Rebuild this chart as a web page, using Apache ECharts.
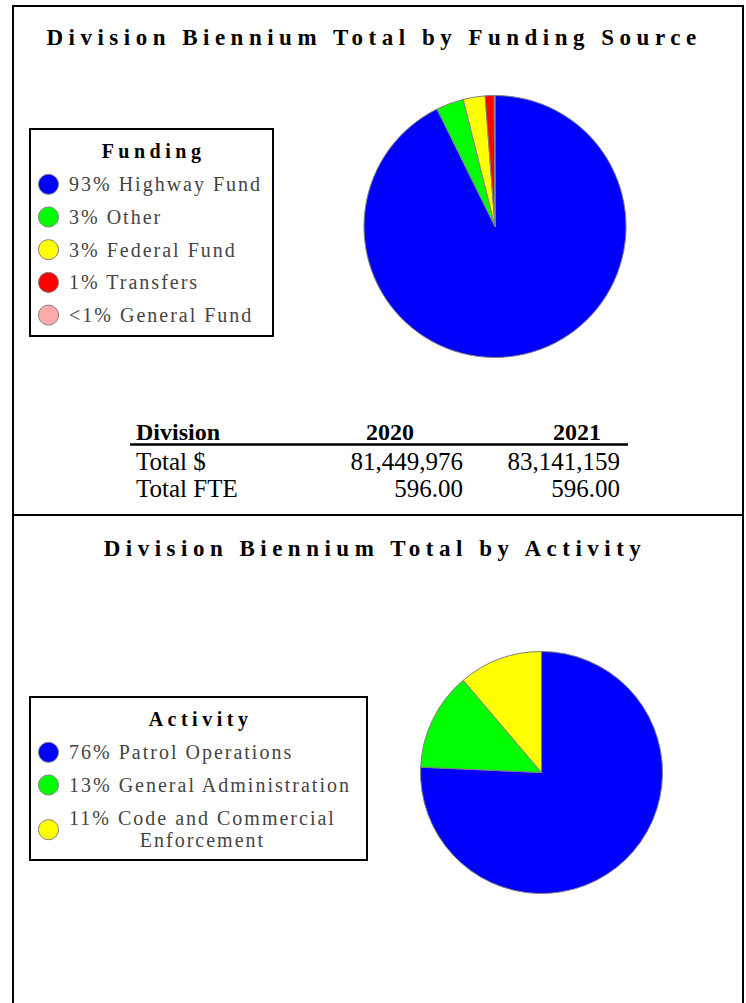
<!DOCTYPE html>
<html><head><meta charset="utf-8">
<script src="https://cdn.jsdelivr.net/npm/echarts@6/dist/echarts.min.js"></script>
<style>
html,body{margin:0;padding:0;background:#fff;}
#c{width:746px;height:1003px;}
#c text[style*="23px"]{letter-spacing:5.5px;}
#c text[style*="20px"]{letter-spacing:2px;}
#c text[style*="20px"][style*="bold"]{letter-spacing:4.5px;}
</style></head><body><div id="c"></div>
<script>
// ---- data ----
const fundingTitle = 'Division Biennium Total by Funding Source';
const fundingLegendTitle = 'Funding';
const fundingNames = ['Highway Fund', 'Other', 'Federal Fund', 'Transfers', 'General Fund'];
const fundingValues = [92.7, 3.4, 2.7, 1.1, 0.1];
const fundingPct = ['93%', '3%', '3%', '1%', '<1%'];

const activityTitle = 'Division Biennium Total by Activity';
const activityLegendTitle = 'Activity';
const activityNames = ['Patrol Operations', 'General Administration', 'Code and Commercial\nEnforcement'];
const activityValues = [75.7, 13.1, 11.2];
const activityPct = ['76%', '13%', '11%'];

const tableHeader = ['Division', '2020', '2021'];
const rowLabels = ['Total $', 'Total FTE'];
const totalDollars = [81449976, 83141159];
const totalFTE = [596.00, 596.00];

// ---- style ----
const fundingColors = ['#0000ff', '#00ff00', '#ffff00', '#ff0000', '#ffaaaa'];
const activityColors = ['#0000ff', '#00ff00', '#ffff00'];
const FONT = '"Liberation Serif"';
const itemFont = '20px ' + FONT;

function measure(text, font, spacing) {
  const cv = document.createElement('canvas');
  const ctx = cv.getContext('2d');
  ctx.font = font;
  try { ctx.letterSpacing = spacing + 'px'; } catch (e) {}
  return ctx.measureText(text).width;
}

const graphics = [];
// frame
graphics.push({type: 'polyline', silent: true, shape: {points: [[13, 1003], [13, 6], [743, 6], [743, 1003]]}, style: {stroke: '#000', lineWidth: 2, fill: null}});
graphics.push({type: 'line', silent: true, shape: {x1: 13, y1: 515, x2: 743, y2: 515}, style: {stroke: '#000', lineWidth: 2}});
// titles
graphics.push({type: 'text', x: 374, y: 37, style: {text: fundingTitle, font: 'bold 23px ' + FONT, fill: '#000', align: 'center', verticalAlign: 'middle'}});
graphics.push({type: 'text', x: 375, y: 548, style: {text: activityTitle, font: 'bold 23px ' + FONT, fill: '#000', align: 'center', verticalAlign: 'middle'}});

function buildLegend(box, title, titleY, names, pct, colors, firstY, gap, lineH) {
  graphics.push({type: 'rect', silent: true, shape: {x: box[0], y: box[1], width: box[2] - box[0], height: box[3] - box[1]}, style: {stroke: '#000', lineWidth: 2, fill: '#fff'}});
  graphics.push({type: 'text', x: (box[0] + box[2]) / 2 + 2, y: titleY, style: {text: title, font: 'bold 20px ' + FONT, fill: '#000', align: 'center', verticalAlign: 'middle'}});
  let y = firstY;
  names.forEach((n, i) => {
    const lines = (pct[i] + ' ' + n).split('\n');
    const h = lines.length * lineH;
    const cy = y + h / 2 - lineH / 2;
    const circY = lines.length > 1 ? cy + 1 : cy;
    graphics.push({type: 'circle', silent: true, shape: {cx: 48.5, cy: circY, r: 10}, style: {fill: colors[i], stroke: '#808080', lineWidth: 1}});
    if (lines.length === 1) {
      graphics.push({type: 'text', x: 69, y: cy, style: {text: lines[0], font: itemFont, fill: '#444', align: 'left', verticalAlign: 'middle'}});
    } else {
      const w = measure(lines[0], itemFont, 2);
      graphics.push({type: 'text', x: 69 + w / 2, y: cy, style: {text: lines.join('\n'), font: itemFont, lineHeight: lineH, fill: '#444', align: 'center', verticalAlign: 'middle'}});
    }
    y += h + gap;
  });
}
buildLegend([30, 129, 273, 336], fundingLegendTitle, 151, fundingNames, fundingPct, fundingColors, 184.3, 10.7, 22);
buildLegend([30, 697, 367, 860], activityLegendTitle, 719, activityNames, activityPct, activityColors, 752.3, 10.7, 22);

// table
const tFont = '25px ' + FONT;
const tBold = 'bold 24px ' + FONT;
const rowY = [432, 461, 488];
graphics.push({type: 'text', x: 136, y: rowY[0], style: {text: tableHeader[0], font: tBold, fill: '#000', align: 'left', verticalAlign: 'middle'}});
graphics.push({type: 'text', x: 390, y: rowY[0], style: {text: tableHeader[1], font: tBold, fill: '#000', align: 'center', verticalAlign: 'middle'}});
graphics.push({type: 'text', x: 577, y: rowY[0], style: {text: tableHeader[2], font: tBold, fill: '#000', align: 'center', verticalAlign: 'middle'}});
graphics.push({type: 'line', silent: true, shape: {x1: 130, y1: 444.5, x2: 628, y2: 444.5}, style: {stroke: '#000', lineWidth: 2.5}});
const colRight = [463, 620];
const rows = [totalDollars.map(v => v.toLocaleString('en-US')), totalFTE.map(v => v.toFixed(2))];
rowLabels.forEach((lab, r) => {
  graphics.push({type: 'text', x: 136, y: rowY[r + 1], style: {text: lab, font: tFont, fill: '#000', align: 'left', verticalAlign: 'middle'}});
  rows[r].forEach((v, c) => {
    graphics.push({type: 'text', x: colRight[c], y: rowY[r + 1], style: {text: v, font: tFont, fill: '#000', align: 'right', verticalAlign: 'middle'}});
  });
});

const chart = echarts.init(document.getElementById('c'), null, {renderer: 'svg'});
const pieBase = {
  type: 'pie', startAngle: 90, clockwise: true, silent: true, animation: false,
  label: {show: false}, labelLine: {show: false},
  itemStyle: {borderColor: '#808080', borderWidth: 1},
  emphasis: {disabled: true}
};
chart.setOption({
  animation: false,
  series: [
    Object.assign({}, pieBase, {center: [495, 226.5], radius: 131,
      data: fundingNames.map((n, i) => ({name: n, value: fundingValues[i], itemStyle: {color: fundingColors[i]}}))}),
    Object.assign({}, pieBase, {center: [541.5, 772.5], radius: 121,
      data: activityNames.map((n, i) => ({name: n, value: activityValues[i], itemStyle: {color: activityColors[i]}}))})
  ],
  graphic: {elements: graphics}
});
</script></body></html>
